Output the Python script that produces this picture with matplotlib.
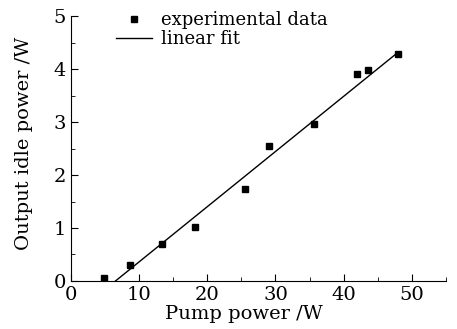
import matplotlib
matplotlib.use("Agg")
import matplotlib.pyplot as plt
from matplotlib.ticker import MultipleLocator

# data
pump = [4.8, 8.6, 13.3, 18.2, 25.6, 29.1, 35.7, 41.9, 43.6, 47.9]
idle = [0.06, 0.30, 0.70, 1.02, 1.74, 2.55, 2.96, 3.90, 3.98, 4.29]
fit_x = [6.55, 47.9]
fit_y = [0.0, 4.31]

plt.rcParams['font.family'] = ['DejaVu Serif']

fig = plt.figure(figsize=(4.57, 3.29), dpi=100)
ax = fig.add_axes([0.155, 0.146, 0.821, 0.805])

ax.plot(pump, idle, 's', color='black', markersize=5, label='experimental data')
ax.plot(fit_x, fit_y, '-', color='black', linewidth=1, label='linear fit')

ax.set_xlim(0, 55)
ax.set_ylim(0, 5)
ax.xaxis.set_major_locator(MultipleLocator(10))
ax.xaxis.set_minor_locator(MultipleLocator(5))
ax.yaxis.set_major_locator(MultipleLocator(1))
ax.yaxis.set_minor_locator(MultipleLocator(0.5))
ax.tick_params(which='both', direction='in', labelsize=14)
ax.tick_params(which='major', length=5)
ax.tick_params(which='minor', length=3)
ax.spines['top'].set_visible(False)
ax.spines['right'].set_visible(False)

ax.set_xlabel('Pump power /W', fontsize=14)
ax.xaxis.set_label_coords(0.46, -0.09)
ax.set_ylabel('Output idle power /W', fontsize=14)
ax.yaxis.set_label_coords(-0.1, 0.52)

ax.legend(loc='upper left', bbox_to_anchor=(0.1, 1.045), frameon=False,
          fontsize=13, handlelength=2, handletextpad=0.5, labelspacing=0.05,
          borderaxespad=0)

fig.savefig('out.png', dpi=100)
